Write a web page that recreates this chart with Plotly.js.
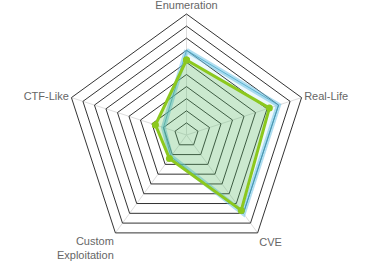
<!DOCTYPE html>
<html>
<head>
<meta charset="utf-8">
<script src="https://cdn.plot.ly/plotly-3.0.1.min.js"></script>
<style>html,body{margin:0;padding:0;background:#fff;}#chart{width:373px;height:273px;}</style>
</head>
<body>
<div id="chart"></div>
<script>
const categories = ["Enumeration", "Real-Life", "CVE", "Custom<br>Exploitation", "CTF-Like"];
const seriesBlue = [7.0, 8.0, 8.0, 2.2, 2.0];
const seriesGreen = [6.2, 7.2, 7.7, 2.4, 2.7];

function closed(a) { return a.concat([a[0]]); }

const traces = [
  {
    type: "scatterpolar",
    r: closed(seriesBlue),
    theta: closed(categories),
    mode: "lines",
    fill: "toself",
    fillcolor: "rgba(110,195,230,0.12)",
    line: {color: "rgba(110,195,230,0.55)", width: 5},
    hoverinfo: "skip",
    showlegend: false
  },
  {
    type: "scatterpolar",
    r: closed(seriesBlue),
    theta: closed(categories),
    mode: "lines",
    line: {color: "rgba(60,160,190,0.7)", width: 1},
    hoverinfo: "skip",
    showlegend: false
  },
  {
    type: "scatterpolar",
    r: closed(seriesGreen),
    theta: closed(categories),
    mode: "lines+markers",
    fill: "toself",
    fillcolor: "rgba(80,180,50,0.22)",
    line: {color: "#8cc81e", width: 3},
    marker: {color: "#8cc81e", size: 7},
    hoverinfo: "skip",
    showlegend: false
  }
];

const layout = {
  width: 373,
  height: 273,
  margin: {l: 40, r: 40, t: 14, b: 17},
  paper_bgcolor: "#fff",
  plot_bgcolor: "#fff",
  font: {family: "Liberation Sans, Arial, sans-serif", size: 11, color: "#666"},
  showlegend: false,
  polar: {
    bgcolor: "#fff",
    gridshape: "linear",
    radialaxis: {
      range: [0, 10],
      dtick: 1,
      showticklabels: false,
      ticks: "",
      showline: false,
      gridcolor: "#333",
      gridwidth: 1
    },
    angularaxis: {
      rotation: 90,
      direction: "clockwise",
      gridcolor: "#ddd",
      linecolor: "#333",
      linewidth: 1,
      ticks: "",
      tickfont: {size: 11, color: "#666"}
    }
  }
};

Plotly.newPlot("chart", traces, layout, {staticPlot: true, displayModeBar: false});
</script>
</body>
</html>
